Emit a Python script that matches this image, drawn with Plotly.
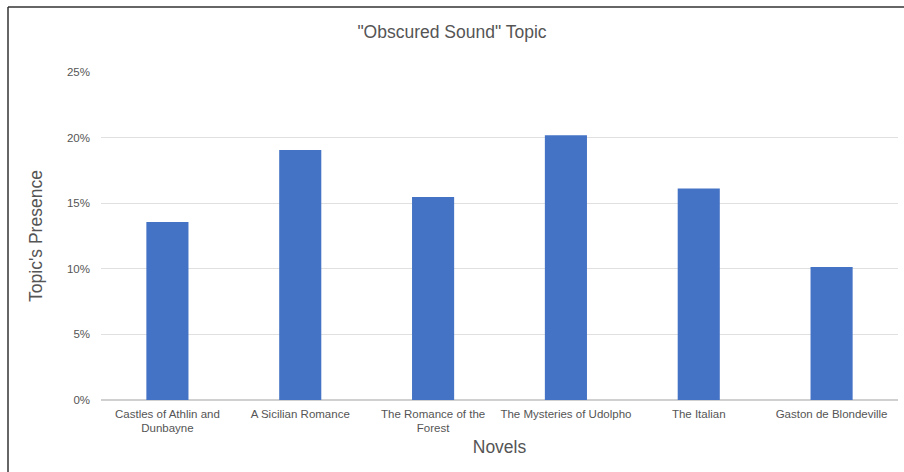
import plotly.graph_objects as go

novels = ["Castles of Athlin and<br>Dunbayne", "A Sicilian Romance", "The Romance of the<br>Forest",
          "The Mysteries of Udolpho", "The Italian", "Gaston de Blondeville"]
presence = [0.1357, 0.1905, 0.1548, 0.2017, 0.1612, 0.1014]
y_ticks = [0, 0.05, 0.10, 0.15, 0.20, 0.25]

W, H = 904, 472
ML, MR, MT, MB = 101, 6, 72, 72
pw = W - ML - MR
ph = H - MT - MB

def px_x(x):
    return (x - ML) / pw

def px_y(y):
    return 1 - (y - MT) / ph

font = "Liberation Sans, Arial, sans-serif"
fig = go.Figure(go.Bar(x=novels, y=presence, marker=dict(color="#4472C4", line=dict(width=0))))

fig.update_layout(
    width=W, height=H,
    margin=dict(l=ML, r=MR, t=MT, b=MB),
    paper_bgcolor="white", plot_bgcolor="white",
    font=dict(family=font, color="#555555", size=11.5),
    title=dict(text='"Obscured Sound" Topic', x=0.5, xref="container", y=1 - 32 / H, yanchor="middle",
               font=dict(size=17.5, color="#555555")),
    bargap=0.683,
    showlegend=False,
    shapes=[
        dict(type="line", xref="paper", yref="paper", x0=px_x(8), x1=px_x(8), y0=px_y(7), y1=px_y(480),
             line=dict(color="#333333", width=1.5)),
        dict(type="line", xref="paper", yref="paper", x0=px_x(8), x1=px_x(910), y0=px_y(7), y1=px_y(7),
             line=dict(color="#333333", width=1.5)),
    ],
)
fig.update_xaxes(
    showgrid=False, showline=False, zeroline=False, ticks="", ticklabelstandoff=5,
    tickfont=dict(size=11.5, color="#555555"),
    title=dict(text="Novels", font=dict(size=17.5, color="#555555"), standoff=7),
)
fig.update_yaxes(
    range=[0, 0.25], tickvals=y_ticks, tickformat=".0%",
    showgrid=True, gridcolor="#e0e0e0", gridwidth=1, zeroline=True, zerolinecolor="#d0d0d0",
    showline=False, ticks="", ticklabelstandoff=10,
    tickfont=dict(size=11.5, color="#555555"),
    title=dict(text="Topic's Presence", font=dict(size=17.5, color="#555555"), standoff=19),
)
fig.write_html("out.html", config={"displayModeBar": False},
               post_script="document.body.style.margin='0';")
